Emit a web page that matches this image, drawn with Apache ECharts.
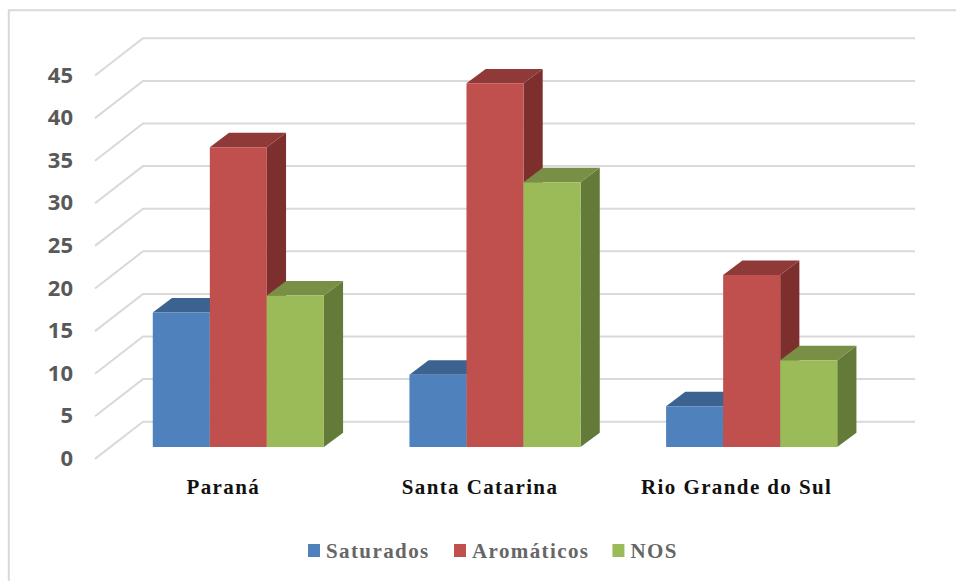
<!DOCTYPE html>
<html>
<head>
<meta charset="utf-8">
<style>
html,body{margin:0;padding:0;background:#fff}
#chart{width:956px;height:581px}
/* Serif labels are set with wider tracking */
#chart text[style*="Serif"]{letter-spacing:1.4px}
</style>
<script src="https://cdn.jsdelivr.net/npm/echarts@6/dist/echarts.min.js"></script>
</head>
<body>
<div id="chart"></div>
<script>
// Teores por região: saturados, aromáticos e NOS
const categories = ['Paraná', 'Santa Catarina', 'Rio Grande do Sul'];
const saturados = [15.8, 8.5, 4.8];
const aromaticos = [35.2, 42.7, 20.2];
const nos = [17.8, 31.1, 10.2];
const yTicks = [0, 5, 10, 15, 20, 25, 30, 35, 40, 45];

// Projection of the 3D box: wall depth and the plane the bars stand on
const wall = { dx: 48, dy: -37.2, overhang: 2 };
const plane = { dx: 15, dy: -11.8 };
const barDepth = { dx: 19.2, dy: -14.4 };
const GROUP_SHARE = 2 / 3;

function barRenderer(seriesIndex, palette) {
  return function (params, api) {
    const band = api.size([1, 0])[0];
    const w = band * GROUP_SHARE / 3;
    const c = api.coord([api.value(0), api.value(1)]);
    const base = api.coord([api.value(0), 0]);
    const x0 = c[0] + plane.dx + (seriesIndex - 1.5) * w;
    const x1 = x0 + w;
    const yTop = c[1] + plane.dy;
    const yBase = base[1] + plane.dy;
    const dx = barDepth.dx, dy = barDepth.dy;
    return {
      type: 'group',
      children: [
        { type: 'polygon', shape: { points: [[x1, yTop], [x1 + dx, yTop + dy], [x1 + dx, yBase + dy], [x1, yBase]] }, style: { fill: palette.side } },
        { type: 'polygon', shape: { points: [[x0, yTop], [x0 + dx, yTop + dy], [x1 + dx, yTop + dy], [x1, yTop]] }, style: { fill: palette.top } },
        { type: 'rect', shape: { x: x0, y: yTop, width: w, height: yBase - yTop }, style: { fill: palette.front } }
      ]
    };
  };
}

function wallLine(params, api) {
  const p = api.coord([0, api.value(0)]);
  const x0 = params.coordSys.x;
  const x1 = x0 + params.coordSys.width;
  return {
    type: 'polyline',
    shape: { points: [[x0, p[1]], [x0 + wall.dx, p[1] + wall.dy], [x1 + wall.dx + wall.overhang, p[1] + wall.dy]] },
    style: { fill: null, stroke: '#D9D9D9', lineWidth: 2 }
  };
}

const palettes = {
  blue: { front: '#4F81BD', top: '#3C628F', side: '#375E8C' },
  red: { front: '#C0504D', top: '#8F3A38', side: '#7C2F2D' },
  green: { front: '#9BBB59', top: '#788F45', side: '#647A38' }
};

function barSeries(name, values, index, palette) {
  return {
    name: name,
    type: 'custom',
    coordinateSystem: 'cartesian2d',
    clip: false,
    itemStyle: { color: palette.front },
    encode: { x: 0, y: 1 },
    data: values.map((v, i) => [i, v]),
    renderItem: barRenderer(index, palette)
  };
}

const chart = echarts.init(document.getElementById('chart'), null, { renderer: 'svg' });
chart.setOption({
  animation: false,
  backgroundColor: '#fff',
  graphic: [
    { type: 'line', silent: true, z: -10, shape: { x1: 8.8, y1: 10.3, x2: 8.8, y2: 581 }, style: { stroke: '#D9D9D9', lineWidth: 2 } },
    { type: 'line', silent: true, z: -10, shape: { x1: 8, y1: 10.3, x2: 956, y2: 10.3 }, style: { stroke: '#D9D9D9', lineWidth: 2 } }
  ],
  grid: { left: 95, width: 770, top: 75.5, height: 383.4, containLabel: false },
  legend: {
    top: 535,
    left: 303,
    itemWidth: 12,
    itemHeight: 13,
    itemGap: 37,
    icon: 'rect',
    textStyle: { fontFamily: 'Liberation Serif', fontWeight: 'bold', fontSize: 21, color: '#666666', padding: [0, 0, 0, 1] },
    data: ['Saturados', 'Aromáticos', 'NOS']
  },
  xAxis: {
    type: 'category',
    data: categories,
    axisLine: { show: false },
    axisTick: { show: false },
    splitLine: { show: false },
    axisLabel: { margin: 18, fontFamily: 'Liberation Serif', fontWeight: 'bold', fontSize: 21, color: '#111' }
  },
  yAxis: {
    type: 'value',
    min: 0,
    max: 45,
    interval: 5,
    axisLine: { show: false },
    axisTick: { show: false },
    splitLine: { show: false },
    axisLabel: {
      margin: 22,
      formatter: '{tick|{value}}',
      rich: {
        tick: { padding: [0, 0, 4, 0], fontFamily: 'Open Sans', fontWeight: 'bold', fontSize: 22, color: '#595959' }
      }
    }
  },
  series: [
    {
      type: 'custom',
      coordinateSystem: 'cartesian2d',
      silent: true,
      clip: false,
      encode: { y: 0 },
      data: yTicks.map(t => [t]),
      renderItem: wallLine
    },
    barSeries('Saturados', saturados, 0, palettes.blue),
    barSeries('Aromáticos', aromaticos, 1, palettes.red),
    barSeries('NOS', nos, 2, palettes.green)
  ]
});
</script>
</body>
</html>
